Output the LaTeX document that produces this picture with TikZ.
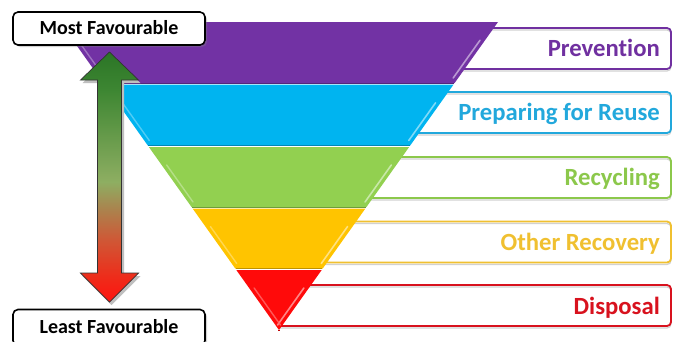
\documentclass[tikz,border=0pt]{standalone}
\usepackage{fontspec}
\setmainfont{Carlito}[Ligatures=NoCommon]
\usetikzlibrary{shadows,calc}
\definecolor{cpurple}{HTML}{7232A4}
\definecolor{ccyan}{HTML}{00B4F0}
\definecolor{cgreen}{HTML}{92D050}
\definecolor{cyellow}{HTML}{FFC400}
\definecolor{cred}{HTML}{FF0A0A}
\definecolor{tpurple}{HTML}{7030A0}
\definecolor{tcyan}{HTML}{22A8DC}
\definecolor{tgreen}{HTML}{8CC84B}
\definecolor{tyellow}{HTML}{F0C030}
\definecolor{tred}{HTML}{D8121E}
\definecolor{ag1}{HTML}{2B7526}
\definecolor{ag2}{HTML}{3D8632}
\definecolor{ag3}{HTML}{8EAE62}
\definecolor{ag4}{HTML}{A8864F}
\definecolor{ag5}{HTML}{CF5836}
\definecolor{ag6}{HTML}{EE2C1A}
\definecolor{ag7}{HTML}{FF1410}
\pgfdeclareverticalshading{arrowshade}{100bp}{color(0bp)=(ag7); color(25bp)=(ag7); color(30bp)=(ag6); color(37.5bp)=(ag5); color(44bp)=(ag4); color(49bp)=(ag3); color(67.5bp)=(ag2); color(75bp)=(ag1); color(100bp)=(ag1)}
\tikzset{
  lbox/.style={draw=black, line width=1.6pt, rounded corners=5pt, fill=white,
    minimum width=192pt, inner sep=0pt,
    drop shadow={shadow xshift=2pt, shadow yshift=-2pt, opacity=0.35}},
  ltext/.style={anchor=base, inner sep=0pt, font=\bfseries\fontsize{20}{20}\selectfont},
  rlabel/.style={anchor=base east, inner sep=0pt, font=\bfseries\fontsize{24.7}{24.7}\selectfont},
  boxline/.style={line width=1.8pt, rounded corners=4pt},
}
\begin{document}
\begin{tikzpicture}[x=1pt,y=-1pt]
\useasboundingbox (0,0) rectangle (673,341);
\fill[white] (0,0) rectangle (673,341);
% label boxes (drawn first so the triangle hides their left ends)
\foreach \t/\c in {28/tpurple, 92/tcyan, 157/tgreen, 221.5/tyellow, 285/tred}{
  \pgfmathsetmacro\b{\t+41}
  \pgfmathsetmacro\xt{498-0.711*(\t-22)-4}
  \pgfmathsetmacro\xb{498-0.711*(\b-22)-4}
  \draw[boxline, black!18, line width=1.2pt] (\xt+1,\t+2) -- (671,\t+2) -- (671,\b+2) -- (\xb+1,\b+2);
  \draw[boxline, \c] (\xt,\t) -- (671,\t) -- (671,\b) -- (\xb,\b);
}
% triangle bands
\foreach \ya/\yb/\c in {22/83/cpurple, 84.5/145.5/ccyan, 147/207/cgreen, 208.5/268.5/cyellow, 270/330/cred}{
  \pgfmathsetmacro\xla{60+0.711*(\ya-22)}
  \pgfmathsetmacro\xra{498-0.711*(\ya-22)}
  \pgfmathsetmacro\xlb{60+0.711*(\yb-22)}
  \pgfmathsetmacro\xrb{498-0.711*(\yb-22)}
  \fill[\c] (\xla,\ya) -- (\xra,\ya) -- (\xrb,\yb) -- (\xlb,\yb) -- cycle;
  \draw[\c!75!black, line width=0.8pt] (\xlb+0.6,\yb) -- (\xrb-0.6,\yb);
  % bevel highlights
  \pgfmathsetmacro\ha{\ya+0.3*(\yb-\ya)}
  \pgfmathsetmacro\hb{\yb-5}
  \pgfmathsetmacro\xrha{498-0.711*(\ha-22)-5}
  \pgfmathsetmacro\xrhb{498-0.711*(\hb-22)-5}
  \pgfmathsetmacro\xlha{60+0.711*(\ha-22)+5}
  \pgfmathsetmacro\xlhb{60+0.711*(\hb-22)+5}
  \draw[\c!50!white, line width=1.6pt, line cap=round] (\xrha,\ha) -- (\xrhb,\hb);
  \draw[\c!60!white, line width=1.4pt, line cap=round, opacity=0.8] (\xlha,\ha) -- (\xlhb,\hb);
}
% right labels
\node[rlabel, text=tpurple] (prev) at (660,56) {Prevention};
\node[rlabel, text=tcyan] (reuse) at (660,120) {Preparing for Reuse};
\node[rlabel, text=tgreen] (recy) at (660,185.5) {Recycling};
\node[rlabel, text=tyellow] (recov) at (660,250.5) {Other Recovery};
\node[rlabel, text=tred] (disp) at (660,314) {Disposal};
% double arrow
\fill[black!25] (111.5,55) -- (140.5,83) -- (124,83) -- (124,276) -- (140.5,276) -- (111.5,305) -- (82.5,276) -- (99.5,276) -- (99.5,83) -- (82.5,83) -- cycle;
\draw[draw=black!80, line width=0.7pt, shading=arrowshade]
  (109.5,52) -- (138.5,80) -- (121.5,80) -- (121.5,273) -- (138.5,273) -- (109.5,302)
  -- (80.5,273) -- (97.5,273) -- (97.5,80) -- (80.5,80) -- cycle;
% left boxes
\node[lbox, minimum height=33pt] (most) at (109,28.5) {};
\node[ltext] (mosttxt) at (109,34.3) {Most Favourable};
\node[lbox, minimum height=36pt] (least) at (109,327.5) {};
\node[ltext] (leasttxt) at (109,333) {Least Favourable};
\end{tikzpicture}
\end{document}
